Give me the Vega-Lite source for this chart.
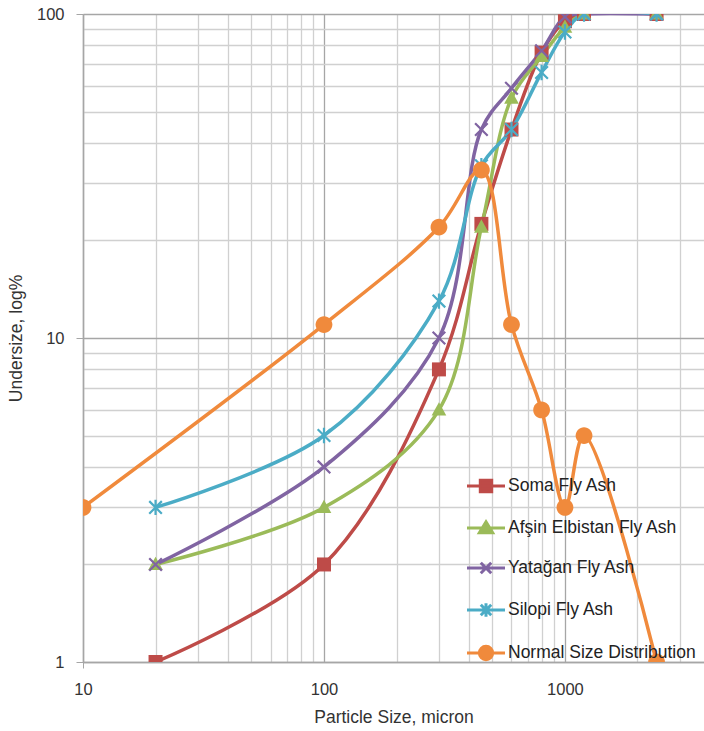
{
  "$schema": "https://vega.github.io/schema/vega-lite/v6.json",
  "width": 621,
  "height": 648,
  "autosize": "none",
  "padding": {"left": 83, "top": 14, "right": 0, "bottom": 69},
  "background": "white",
  "config": {
    "view": {"stroke": null},
    "font": "Liberation Sans"
  },
  "data": {
    "values": [
      {"series": "Soma Fly Ash", "particle": 20, "undersize": 1},
      {"series": "Soma Fly Ash", "particle": 100, "undersize": 2},
      {"series": "Soma Fly Ash", "particle": 300, "undersize": 8},
      {"series": "Soma Fly Ash", "particle": 450, "undersize": 22.5},
      {"series": "Soma Fly Ash", "particle": 600, "undersize": 44},
      {"series": "Soma Fly Ash", "particle": 800, "undersize": 76},
      {"series": "Soma Fly Ash", "particle": 1000, "undersize": 95},
      {"series": "Soma Fly Ash", "particle": 1200, "undersize": 100},
      {"series": "Soma Fly Ash", "particle": 2400, "undersize": 100},
      {"series": "Afşin Elbistan Fly Ash", "particle": 20, "undersize": 2},
      {"series": "Afşin Elbistan Fly Ash", "particle": 100, "undersize": 3},
      {"series": "Afşin Elbistan Fly Ash", "particle": 300, "undersize": 6},
      {"series": "Afşin Elbistan Fly Ash", "particle": 450, "undersize": 22},
      {"series": "Afşin Elbistan Fly Ash", "particle": 600, "undersize": 55},
      {"series": "Afşin Elbistan Fly Ash", "particle": 800, "undersize": 74},
      {"series": "Afşin Elbistan Fly Ash", "particle": 1000, "undersize": 91},
      {"series": "Afşin Elbistan Fly Ash", "particle": 1200, "undersize": 100},
      {"series": "Afşin Elbistan Fly Ash", "particle": 2400, "undersize": 100},
      {"series": "Yatağan Fly Ash", "particle": 20, "undersize": 2},
      {"series": "Yatağan Fly Ash", "particle": 100, "undersize": 4},
      {"series": "Yatağan Fly Ash", "particle": 300, "undersize": 10},
      {"series": "Yatağan Fly Ash", "particle": 450, "undersize": 44},
      {"series": "Yatağan Fly Ash", "particle": 600, "undersize": 59},
      {"series": "Yatağan Fly Ash", "particle": 800, "undersize": 77},
      {"series": "Yatağan Fly Ash", "particle": 1000, "undersize": 98},
      {"series": "Yatağan Fly Ash", "particle": 1200, "undersize": 100},
      {"series": "Yatağan Fly Ash", "particle": 2400, "undersize": 100},
      {"series": "Silopi Fly Ash", "particle": 20, "undersize": 3},
      {"series": "Silopi Fly Ash", "particle": 100, "undersize": 5},
      {"series": "Silopi Fly Ash", "particle": 300, "undersize": 13},
      {"series": "Silopi Fly Ash", "particle": 450, "undersize": 34},
      {"series": "Silopi Fly Ash", "particle": 600, "undersize": 44},
      {"series": "Silopi Fly Ash", "particle": 800, "undersize": 66},
      {"series": "Silopi Fly Ash", "particle": 1000, "undersize": 88},
      {"series": "Silopi Fly Ash", "particle": 1200, "undersize": 100},
      {"series": "Silopi Fly Ash", "particle": 2400, "undersize": 100},
      {"series": "Normal Size Distribution", "particle": 10, "undersize": 3},
      {"series": "Normal Size Distribution", "particle": 100, "undersize": 11},
      {"series": "Normal Size Distribution", "particle": 300, "undersize": 22},
      {"series": "Normal Size Distribution", "particle": 450, "undersize": 33},
      {"series": "Normal Size Distribution", "particle": 600, "undersize": 11},
      {"series": "Normal Size Distribution", "particle": 800, "undersize": 6},
      {"series": "Normal Size Distribution", "particle": 1000, "undersize": 3},
      {"series": "Normal Size Distribution", "particle": 1200, "undersize": 5},
      {"series": "Normal Size Distribution", "particle": 2400, "undersize": 1}
    ]
  },
  "encoding": {
    "x": {
      "field": "particle",
      "type": "quantitative",
      "title": "Particle Size, micron",
      "scale": {"type": "log", "domain": [10, 3776], "nice": false},
      "axis": {
        "values": [10, 20, 30, 40, 50, 60, 70, 80, 90, 100, 200, 300, 400, 500, 600, 700, 800, 900, 1000, 2000, 3000],
        "labelExpr": "indexof([10,100,1000], datum.value) >= 0 ? format(datum.value, 'd') : ''",
        "grid": true,
        "gridColor": {"condition": {"test": "indexof([10,100,1000], datum.value) >= 0", "value": "#a6a6a6"}, "value": "#d0d0d0"},
        "gridWidth": 1.3,
        "tickColor": {"condition": {"test": "datum.value == 10", "value": "#a6a6a6"}, "value": "transparent"},
        "tickSize": 6,
        "domainColor": "#a6a6a6",
        "domainWidth": 1.5,
        "labelFont": "Liberation Sans",
        "labelFontSize": 16.5,
        "labelColor": "#333333",
        "labelPadding": 13,
        "labelOverlap": false,
        "labelFlush": false,
        "titleFont": "Liberation Sans",
        "titleFontSize": 17.5,
        "titleFontWeight": "normal",
        "titleColor": "#333333",
        "titlePadding": 11
      }
    },
    "y": {
      "field": "undersize",
      "type": "quantitative",
      "title": "Undersize, log%",
      "scale": {"type": "log", "domain": [1, 100], "nice": false},
      "axis": {
        "values": [1, 2, 3, 4, 5, 6, 7, 8, 9, 10, 20, 30, 40, 50, 60, 70, 80, 90, 100],
        "labelExpr": "indexof([1,10,100], datum.value) >= 0 ? format(datum.value, 'd') : ''",
        "grid": true,
        "gridColor": {"condition": {"test": "indexof([1,10,100], datum.value) >= 0", "value": "#a6a6a6"}, "value": "#d0d0d0"},
        "gridWidth": 1.3,
        "tickColor": {"condition": {"test": "indexof([1,10,100], datum.value) >= 0", "value": "#a6a6a6"}, "value": "transparent"},
        "tickSize": 7,
        "domainColor": "#a6a6a6",
        "domainWidth": 1.5,
        "labelFont": "Liberation Sans",
        "labelFontSize": 16.5,
        "labelColor": "#333333",
        "labelPadding": 12,
        "labelOverlap": false,
        "labelFlush": false,
        "titleFont": "Liberation Sans",
        "titleFontSize": 17.5,
        "titleFontWeight": "normal",
        "titleColor": "#333333",
        "titlePadding": 11
      }
    }
  },
  "layer": [
    {
      "mark": {"type": "line", "interpolate": "catmull-rom", "strokeWidth": 3.5, "clip": true},
      "encoding": {
        "color": {
          "field": "series",
          "type": "nominal",
          "scale": {
            "domain": ["Soma Fly Ash", "Afşin Elbistan Fly Ash", "Yatağan Fly Ash", "Silopi Fly Ash", "Normal Size Distribution"],
            "range": ["#BE4B48", "#9BBB59", "#8064A2", "#4BACC6", "#F08A3C"]
          },
          "legend": {
            "orient": "none",
            "legendX": 392,
            "legendY": 461,
            "title": null,
            "padding": 0,
            "symbolSize": 361,
            "labelOffset": 11,
            "rowPadding": 17,
            "labelFont": "Liberation Sans",
            "labelFontSize": 17.5,
            "labelColor": "#222222",
            "labelLimit": 300,
            "encode": {
              "symbols": {
                "update": {
                  "shape": {"signal": "datum.value === 'Soma Fly Ash' ? 'M-2,0H2M-0.6,-0.6H0.6V0.6H-0.6Z' : datum.value === 'Afşin Elbistan Fly Ash' ? 'M-2,0H2M0,-0.65L0.7,0.5H-0.7Z' : datum.value === 'Yatağan Fly Ash' ? 'M-2,0H2M-0.55,-0.55L0.55,0.55M-0.55,0.55L0.55,-0.55' : datum.value === 'Silopi Fly Ash' ? 'M-2,0H2M-0.55,-0.55L0.55,0.55M-0.55,0.55L0.55,-0.55M0,-0.7V0.7' : 'M-2,0H2M-0.7,0A0.7,0.7 0 1,0 0.7,0A0.7,0.7 0 1,0 -0.7,0Z'"},
                  "fill": {"scale": "color", "field": "value"},
                  "stroke": {"scale": "color", "field": "value"},
                  "strokeWidth": {"value": 3},
                  "size": {"value": 361},
                  "opacity": {"value": 1}
                }
              }
            }
          }
        }
      }
    },
    {
      "transform": [{"filter": "datum.series === 'Soma Fly Ash'"}],
      "mark": {"type": "point", "filled": true, "shape": "M-1,-1H1V1H-1Z", "size": 196, "color": "#BE4B48", "opacity": 1, "clip": true}
    },
    {
      "transform": [{"filter": "datum.series === 'Afşin Elbistan Fly Ash'"}],
      "mark": {"type": "point", "filled": true, "shape": "M0,-1.1L1.05,0.8H-1.05Z", "size": 196, "color": "#9BBB59", "opacity": 1, "clip": true}
    },
    {
      "transform": [{"filter": "datum.series === 'Yatağan Fly Ash'"}],
      "mark": {"type": "point", "filled": false, "shape": "M-0.9,-0.9L0.9,0.9M-0.9,0.9L0.9,-0.9", "size": 196, "color": "#8064A2", "strokeWidth": 2.2, "opacity": 1, "clip": true}
    },
    {
      "transform": [{"filter": "datum.series === 'Silopi Fly Ash'"}],
      "mark": {"type": "point", "filled": false, "shape": "M-0.9,-0.9L0.9,0.9M-0.9,0.9L0.9,-0.9M0,-1.1V1.1", "size": 196, "color": "#4BACC6", "strokeWidth": 2.2, "opacity": 1, "clip": true}
    },
    {
      "transform": [{"filter": "datum.series === 'Normal Size Distribution'"}],
      "mark": {"type": "point", "filled": true, "shape": "M-1.2,0A1.2,1.2 0 1,0 1.2,0A1.2,1.2 0 1,0 -1.2,0Z", "size": 196, "color": "#F08A3C", "opacity": 1, "clip": true}
    }
  ]
}
